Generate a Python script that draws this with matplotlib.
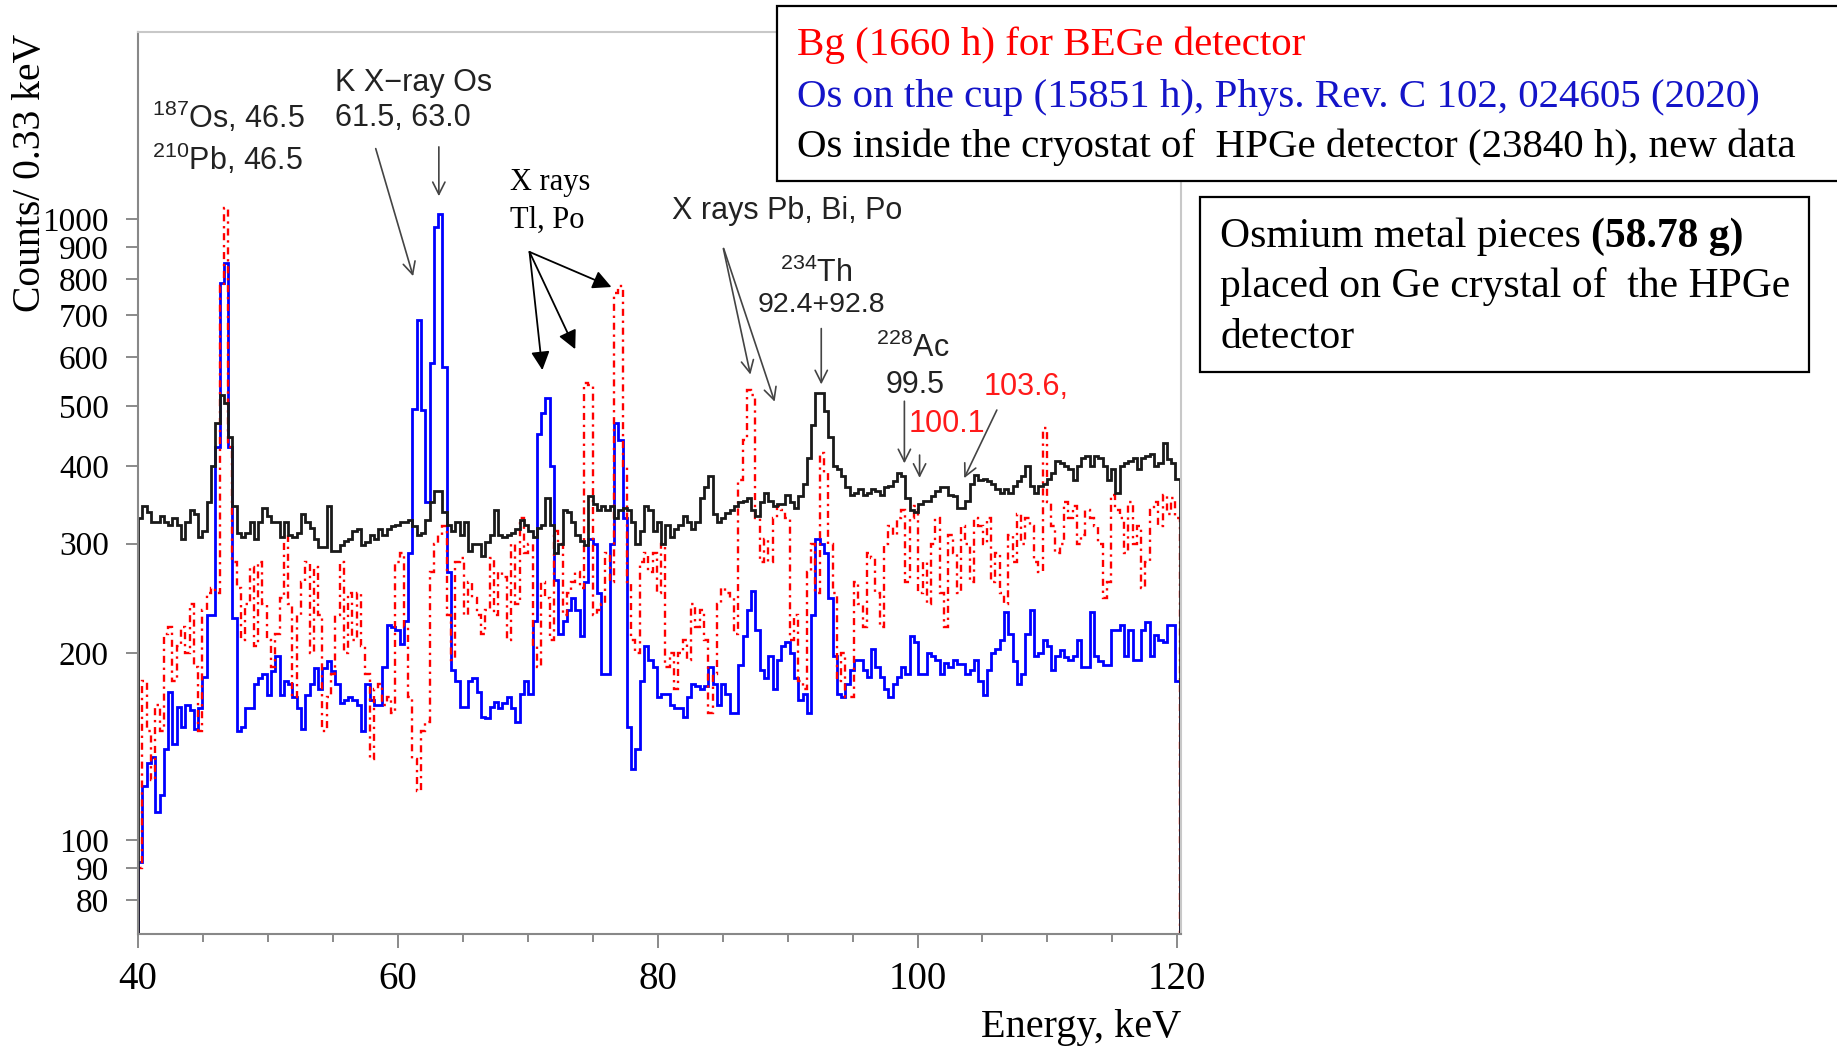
import numpy as np
import matplotlib.pyplot as plt
from matplotlib.patches import Rectangle
from matplotlib.ticker import FixedLocator, FuncFormatter, MultipleLocator, NullLocator

plt.rcParams['mathtext.fontset'] = 'custom'
plt.rcParams['mathtext.rm'] = 'Liberation Sans'

# spectra, counts per 0.33 keV bin starting at 40 keV
e_start = 40.0
bin_width = 0.33

# Bg (1660 h) for BEGe detector
bege_bg = [
    90, 180, 150, 125, 165, 150, 215, 220, 180, 205,
    220, 200, 240, 190, 150, 235, 250, 255, 250, 780,
    1040, 430, 280, 255, 210, 240, 275, 205, 280, 240,
    210, 190, 215, 245, 310, 240, 170, 230, 260, 280,
    200, 275, 230, 150, 170, 185, 230, 280, 200,
    250, 210, 250, 205, 185, 135, 175, 178, 165, 170,
    160, 280, 290, 220, 170, 135, 120, 150, 155, 270,
    300, 310, 320, 230, 195, 280, 285, 230, 260, 245,
    230, 215, 235, 285, 230, 270, 265, 210, 300, 240,
    330, 290, 300, 205, 190, 260, 245, 210, 315,
    300, 230, 250, 260, 270, 255, 545, 540, 230, 235,
    240, 290, 260, 760, 780, 400, 260, 210, 200, 280,
    290, 270, 290, 250, 300, 190, 200, 175, 200, 210,
    195, 240, 220, 235, 210, 160, 185, 240, 255, 250,
    245, 215, 380, 440, 530, 520, 330, 280, 305,
    280, 330, 345, 340, 330, 210, 230, 180, 175, 270,
    300, 250, 420, 390, 300, 250, 180, 200, 170, 170,
    260, 240, 220, 290, 285, 250, 220, 300, 320, 310,
    330, 340, 260, 330, 345, 250, 280, 240, 300, 330,
    250, 220, 310, 290, 250, 320, 300, 260, 330,
    320, 300, 330, 260, 290, 250, 240, 310, 280, 335,
    300, 330, 320, 280, 270, 460, 350, 320, 290, 300,
    350, 330, 345, 300, 310, 340, 330, 320, 300, 245,
    260, 360, 340, 330, 290, 350, 300, 320, 255, 280,
    340, 350, 320, 360, 335, 355, 330,
]

# Os on the cup (15851 h)
os_cup = [
    92, 122, 133, 136, 111, 118, 140, 173, 143, 164,
    152, 165, 162, 151, 163, 183, 230, 230, 430, 790,
    850, 430, 228, 150, 152, 163, 163, 178, 182, 185,
    171, 187, 198, 171, 180, 178, 170, 163, 151, 171,
    178, 189, 175, 189, 194, 187, 178, 166, 168,
    170, 168, 165, 150, 178, 168, 165, 165, 190, 222,
    220, 218, 207, 225, 290, 495, 688, 493, 350, 586,
    972, 1020, 578, 270, 188, 180, 164, 164, 180, 182,
    173, 158, 157, 164, 167, 163, 166, 170, 163, 155,
    172, 180, 172, 225, 450, 487, 515, 400, 262,
    215, 225, 235, 245, 235, 213, 260, 305, 300, 250,
    185, 185, 300, 470, 440, 330, 152, 130, 140, 180,
    205, 195, 190, 170, 172, 172, 165, 163, 163, 158,
    170, 178, 177, 175, 177, 190, 178, 165, 178, 172,
    160, 160, 191, 213, 235, 252, 218, 188, 182,
    198, 175, 195, 205, 208, 200, 182, 168, 172, 160,
    230, 305, 300, 290, 245, 198, 172, 170, 178, 188,
    195, 195, 188, 183, 203, 190, 183, 175, 170, 178,
    183, 190, 185, 213, 208, 185, 185, 200, 198, 195,
    185, 193, 190, 195, 192, 192, 185, 188, 195,
    180, 171, 188, 200, 203, 210, 233, 215, 194, 178,
    185, 215, 235, 198, 200, 210, 205, 188, 198, 202,
    197, 195, 198, 210, 190, 190, 233, 198, 194, 191,
    191, 218, 218, 222, 198, 218, 195, 195, 218, 224,
    198, 214, 210, 208, 222, 222, 180,
]

# Os inside the cryostat of HPGe detector (23840 h)
os_cryostat = [
    330, 345, 338, 325, 325, 332, 325, 322, 330, 322,
    305, 325, 340, 335, 308, 315, 350, 400, 470, 520,
    505, 445, 345, 312, 308, 312, 325, 305, 325, 342,
    332, 325, 325, 308, 325, 310, 308, 312, 335, 325,
    318, 305, 296, 296, 345, 292, 292, 298, 303,
    305, 315, 317, 298, 302, 310, 305, 317, 310, 317,
    320, 322, 325, 325, 328, 320, 310, 312, 328, 350,
    365, 365, 338, 322, 315, 325, 310, 325, 292, 300,
    300, 287, 302, 310, 340, 310, 308, 310, 312, 317,
    328, 322, 315, 308, 318, 322, 355, 322, 290,
    300, 340, 337, 325, 310, 303, 298, 358, 348, 340,
    345, 340, 345, 330, 340, 343, 340, 325, 300, 315,
    345, 340, 315, 325, 300, 322, 308, 317, 322, 333,
    325, 317, 325, 355, 370, 385, 335, 325, 330, 336,
    340, 345, 350, 352, 355, 340, 332, 350, 362,
    352, 345, 348, 348, 360, 350, 342, 358, 375, 412,
    465, 525, 525, 490, 445, 400, 395, 385, 370, 360,
    362, 368, 360, 362, 368, 365, 360, 370, 372, 378,
    390, 385, 355, 340, 338, 348, 352, 352, 358, 365,
    370, 370, 360, 358, 342, 342, 352, 375, 387,
    380, 382, 378, 375, 368, 362, 368, 362, 372, 378,
    385, 400, 372, 362, 372, 375, 382, 390, 408, 405,
    400, 395, 380, 400, 412, 415, 400, 415, 412, 400,
    380, 395, 362, 400, 405, 408, 412, 395, 412, 415,
    418, 400, 405, 435, 410, 405, 382,
]

y_ticks = [80, 90, 100, 200, 300, 400, 500, 600, 700, 800, 900, 1000]

edges = e_start + bin_width * np.arange(len(os_cryostat) + 1)

fig = plt.figure(figsize=(18.37, 10.47), dpi=100)
ax = fig.add_axes([0.0752, 0.1084, 0.5678, 0.8610])
ax.set_yscale('log')

ax.stairs(os_cup, edges, baseline=1, color='#0000ff', lw=2.0)
ax.stairs(bege_bg, edges, baseline=1, color='#ff0000', lw=1.7,
          linestyle=(0, (3, 2, 1, 2)))
ax.stairs(os_cryostat, edges, baseline=1, color='#1a1a1a', lw=2.0)

ax.set_xlim(40, 120.3)
ax.set_ylim(70.7, 2000)

ax.yaxis.set_major_locator(FixedLocator(y_ticks))
ax.yaxis.set_major_formatter(FuncFormatter(lambda v, p: f'{int(round(v))}'))
ax.yaxis.set_minor_locator(NullLocator())
ax.xaxis.set_major_locator(MultipleLocator(20))
ax.xaxis.set_minor_locator(MultipleLocator(5))

serif = 'Liberation Serif'
sans = 'Liberation Sans'
ax.tick_params(axis='y', which='major', direction='out', length=9, width=1.2,
               color='#777777', pad=12, labelsize=24)
ax.tick_params(axis='x', which='major', direction='out', length=10, width=1.2,
               color='#777777', pad=10, labelsize=28)
ax.tick_params(axis='x', which='minor', direction='out', length=6, width=1.2,
               color='#777777')
for lab in ax.get_xticklabels() + ax.get_yticklabels():
    lab.set_fontfamily(serif)

for side in ['top', 'right']:
    ax.spines[side].set_color('#c8c8c8')
    ax.spines[side].set_linewidth(1.5)
for side in ['left', 'bottom']:
    ax.spines[side].set_color('#888888')
    ax.spines[side].set_linewidth(1.5)

fig.text(1181 / 1837, 1 - 1037 / 1047, 'Energy, keV', family=serif, size=29,
         ha='right', va='baseline')
fig.text(31 / 1837, 1 - 34 / 1047, 'Counts/ 0.33 keV', family=serif, size=28.5,
         rotation=90, ha='center', va='top')

# peak labels
note = dict(family=sans, size=22, color='#222222')
red_note = {**note, 'color': '#ff1a1a'}
ax.text(41.06, 1459, '$^{187}$Os, 46.5', ha='left', va='center', **note)
ax.text(41.06, 1249, '$^{210}$Pb, 46.5', ha='left', va='center', **note)
ax.text(55.15, 1656, 'K X\u2212ray Os', ha='left', va='center', **note)
ax.text(55.15, 1454, '61.5, 63.0', ha='left', va='center', **note)
ax.text(81.13, 1030, 'X rays Pb, Bi, Po', ha='left', va='center', **note)
ax.text(92.22, 816, '$^{234}$Th', ha='center', va='center', **note)
ax.text(92.59, 728, '92.4+92.8', ha='center', va='center', **{**note, 'size': 20.5})
ax.text(99.61, 620, '$^{228}$Ac', ha='center', va='center', **note)
ax.text(99.8, 540, '99.5', ha='center', va='center', **note)
ax.text(99.35, 467, '100.1', ha='left', va='center', **red_note)
ax.text(105.12, 537, '103.6,', ha='left', va='center', **red_note)

thin = dict(arrowstyle='->', color='#444444', lw=1.2, mutation_scale=22)
for start, end in [((58.23, 1311), (61.23, 801)),
                   ((63.15, 1320), (63.15, 1077)),
                   ((85.01, 905), (87.18, 556)),
                   ((85.01, 905), (89.07, 503)),
                   ((92.59, 673), (92.59, 536)),
                   ((98.99, 514), (98.99, 400)),
                   ((100.16, 421), (100.16, 379)),
                   ((106.2, 497), (103.5, 379))]:
    ax.annotate('', xy=end, xytext=start, arrowprops=thin)

ax.text(68.6, 1144, 'X rays', family=serif, size=22, ha='left', va='center')
ax.text(68.6, 996, 'Tl, Po', family=serif, size=22, ha='left', va='center')
bold = dict(arrowstyle='-|>', color='black', lw=1.3, mutation_scale=28,
            shrinkA=0, shrinkB=0)
for end in [(71.12, 571), (73.65, 617), (76.44, 777)]:
    ax.annotate('', xy=end, xytext=(70.13, 885), arrowprops=bold)

# data set key, drawn over the top of the frame
fig.patches.append(Rectangle((777 / 1837, 1 - 181 / 1047), 1100 / 1837, 175 / 1047,
                             transform=fig.transFigure, facecolor='white',
                             edgecolor='black', lw=1.6, zorder=5))
key = [('Bg (1660 h) for BEGe detector', '#ff0000', 55),
       ('Os on the cup (15851 h), Phys. Rev. C 102, 024605 (2020)', '#1414c8', 107),
       ('Os inside the cryostat of  HPGe detector (23840 h), new data', 'black', 157)]
for txt, col, base in key:
    fig.text(797 / 1837, 1 - base / 1047, txt, family=serif, size=29.5, color=col,
             ha='left', va='baseline', zorder=6)

# sample description
fig.patches.append(Rectangle((1200 / 1837, 1 - 372 / 1047), 609 / 1837, 175 / 1047,
                             transform=fig.transFigure, facecolor='white',
                             edgecolor='black', lw=1.6, zorder=5))
first = fig.text(1220 / 1837, 1 - 247 / 1047, 'Osmium metal pieces ', family=serif,
                 size=30, ha='left', va='baseline', zorder=6)
renderer = fig.canvas.get_renderer()
bb = first.get_window_extent(renderer)
fig.text(bb.x1 / fig.bbox.width, 1 - 247 / 1047, '(58.78 g)', family=serif,
         size=30, weight='bold', ha='left', va='baseline', zorder=6)
fig.text(1220 / 1837, 1 - 297 / 1047, 'placed on Ge crystal of  the HPGe',
         family=serif, size=30, ha='left', va='baseline', zorder=6)
fig.text(1220 / 1837, 1 - 348 / 1047, 'detector', family=serif, size=30,
         ha='left', va='baseline', zorder=6)

fig.savefig('out.png', dpi=100)
